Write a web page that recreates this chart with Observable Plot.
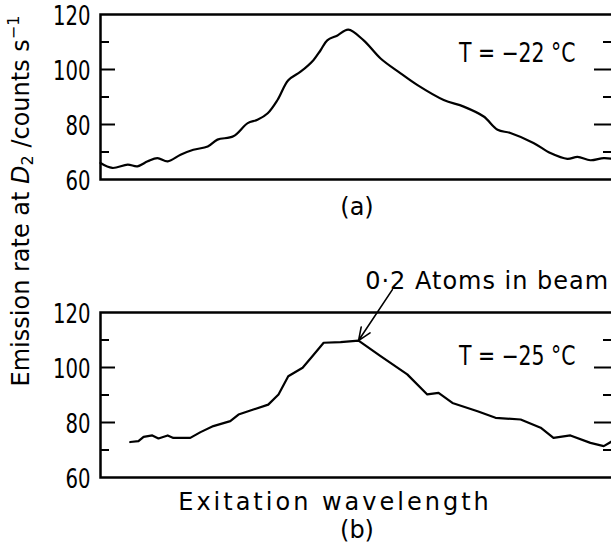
<!DOCTYPE html>
<html><head><meta charset="utf-8">
<script src="https://cdn.jsdelivr.net/npm/d3@7"></script>
<script src="https://cdn.jsdelivr.net/npm/@observablehq/plot@0.6"></script>
<style>
html,body{margin:0;padding:0;background:#fff;overflow:hidden;}
#wrap{position:relative;width:611px;height:556px;overflow:hidden;}
#ylabel{position:absolute;z-index:2;left:-179px;top:186px;width:400px;height:30px;line-height:30px;text-align:center;
  transform:rotate(-90deg);transform-origin:200px 15px;font-family:"DejaVu Sans",sans-serif;font-size:24px;color:#000;white-space:nowrap;}
#ylabel sub{font-size:16px;vertical-align:-4px;line-height:0;}
#ylabel sup{font-size:16px;vertical-align:10px;line-height:0;}
</style></head><body><div id="wrap"><div id="ylabel">Emission rate at <i>D</i><sub>2</sub> /counts s<sup>−1</sup></div></div>
<script>
// panels
const panels = ["a", "b"];
const panelLabels = ["(a)", "(b)"];
const temperatures = ["T = −22 °C", "T = −25 °C"];
const temperatureY = [106, 104];
// panel (a): excitation wavelength (arbitrary units 0-100) vs emission rate
const xA = [0,2.3,5.3,7.2,9.2,11.1,13.1,15.6,18.1,20.9,22.8,25.9,28.7,30.6,32.6,34.5,36.6,39.0,41.5,42.9,44.2,46.2,48.3,51.3,54.6,58.5,61.8,66.9,70.8,74.7,77.4,79.9,84.4,87.7,91.0,93.0,95.5,98.1,100];
const yA = [66.0,64.2,65.4,64.8,66.6,67.8,66.6,69.0,70.8,72.0,74.5,75.7,80.5,81.7,84.1,88.9,96.1,99.2,103.4,107.0,110.6,112.4,114.5,110.6,104.0,98.6,94.3,88.9,86.5,82.9,78.1,76.9,73.3,69.6,67.5,68.2,67.0,67.8,67.5];
// panel (b)
const xB = [5.8,7.4,8.4,10.1,11.3,13.1,14.2,17.5,19.5,22.0,25.3,26.9,29.8,32.7,34.7,36.6,39.4,41.3,43.5,46.8,50.3,54.6,59.8,63.7,65.9,68.6,73.5,77.0,81.9,85.8,88.3,91.6,95.5,98.1,100];
const yB = [72.9,73.2,74.8,75.3,74.2,75.3,74.4,74.4,76.5,78.7,80.5,82.9,84.7,86.5,90.2,96.8,99.9,104.1,109.0,109.2,109.8,104.1,97.5,90.2,90.8,87.1,84.1,81.7,81.1,78.1,74.4,75.3,72.6,71.4,73.5];
// axis ticks
const yTickLabels = [60, 80, 100, 120];
const yMajorTicks = [80, 100];
const yMinorTicks = [70, 90, 110];
// annotation
const annotationText = "0·2 Atoms in beam";
const annotationStart = {x: 56.9, y: 128.3};
const annotationTextPos = {x: 51.6, y: 131.4};
const xAxisTitle = "Exitation wavelength";

const dataA = xA.map((x, i) => ({panel: "a", x, y: yA[i]}));
const dataB = xB.map((x, i) => ({panel: "b", x, y: yB[i]}));
const peakB = dataB.reduce((m, d) => d.y > m.y ? d : m, dataB[0]);
const panelInfo = panels.map((p, i) => ({panel: p, label: panelLabels[i], temp: temperatures[i], ty: temperatureY[i]}));

const narrow = "'DejaVu Sans Condensed','DejaVu Sans',sans-serif";
const sans = "'DejaVu Sans',sans-serif";

const chart = Plot.plot({
  width: 625,
  height: 556,
  marginTop: 14,
  marginBottom: 78,
  marginLeft: 100,
  marginRight: 12,
  style: {background: "white", color: "black", overflow: "visible", fontFamily: sans, maxWidth: "none"},
  x: {domain: [0, 100], axis: null},
  y: {domain: [60, 120]},
  fy: {domain: panels, axis: null, paddingInner: 0.445, paddingOuter: 0},
  marks: [
    Plot.axisY({ticks: yMajorTicks, tickSize: -15, tickFormat: () => "", label: null, strokeWidth: 2}),
    Plot.axisY({ticks: yMinorTicks, tickSize: -9, tickFormat: () => "", label: null, strokeWidth: 2}),
    Plot.axisY({anchor: "right", ticks: yMajorTicks, tickSize: -20, tickFormat: () => "", label: null, strokeWidth: 2}),
    Plot.axisY({anchor: "right", ticks: yMinorTicks, tickSize: -11, tickFormat: () => "", label: null, strokeWidth: 2}),
    Plot.axisY({ticks: yTickLabels, tickSize: 0, tickPadding: 10, label: null, fontSize: 26, dy: 2, fontFamily: narrow}),
    Plot.frame({stroke: "black", strokeWidth: 2.5}),
    Plot.line(dataA, {x: "x", y: "y", fy: "panel", stroke: "black", strokeWidth: 2.2, curve: "catmull-rom"}),
    Plot.line(dataB, {x: "x", y: "y", fy: "panel", stroke: "black", strokeWidth: 2.2}),
    Plot.text(panelInfo, {fy: "panel", y: "ty", text: "temp", frameAnchor: "right", dx: -38, textAnchor: "end", fontSize: 27, fontFamily: narrow}),
    Plot.text(panelInfo.filter(d => d.panel === "a"), {fy: "panel", text: "label", frameAnchor: "bottom", lineAnchor: "middle", dy: 28, fontSize: 24, fontFamily: sans}),
    Plot.text(panelInfo.filter(d => d.panel === "b"), {fy: "panel", text: "label", frameAnchor: "bottom", lineAnchor: "middle", dy: 53, fontSize: 24, fontFamily: sans}),
    Plot.text([{panel: "b"}], {fy: "panel", text: () => xAxisTitle, frameAnchor: "bottom", lineAnchor: "middle", dx: -22, dy: 25, fontSize: 24, fontFamily: sans}),
    Plot.text([{panel: "b", ...annotationTextPos}], {fy: "panel", x: "x", y: "y", text: () => annotationText, textAnchor: "start", fontSize: 24, fontFamily: sans}),
    Plot.arrow([{panel: "b", x1: annotationStart.x, y1: annotationStart.y, x2: peakB.x, y2: peakB.y}], {fy: "panel", x1: "x1", y1: "y1", x2: "x2", y2: "y2", stroke: "black", strokeWidth: 1.6, headLength: 13, headAngle: 45, insetEnd: 0, insetStart: 0})
  ]
});
document.getElementById("wrap").appendChild(chart);
const sel = d3.select(chart);
sel.selectAll("text").filter(function(){ return this.textContent === xAxisTitle; }).style("letter-spacing", "3px");
sel.selectAll("text").filter(function(){ return this.textContent === annotationText; }).style("letter-spacing", "1px");
// condense numeric labels horizontally (tall, narrow typeface of the original)
sel.selectAll("text").filter(function(){ return /^(\d+|T = .*)$/.test(this.textContent); }).each(function(){
  const w = this.getComputedTextLength();
  this.setAttribute("textLength", (w * 0.84).toFixed(1));
  this.setAttribute("lengthAdjust", "spacingAndGlyphs");
});
sel.style("position", "absolute").style("left", "0px").style("top", "0px");
</script></body></html>
